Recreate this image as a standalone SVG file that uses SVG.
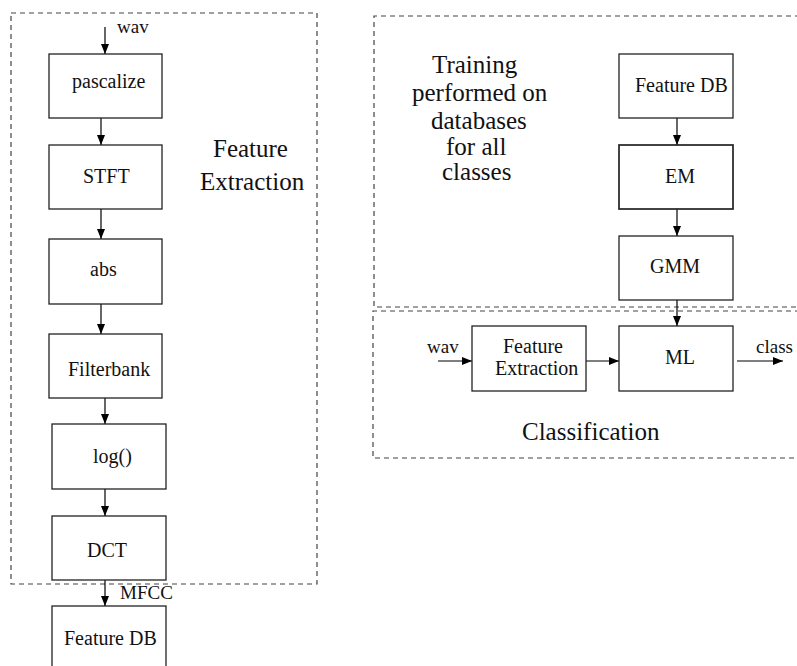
<svg xmlns="http://www.w3.org/2000/svg" width="797" height="666" viewBox="0 0 797 666">
<defs>
<style>
text{font-family:"Liberation Serif","Times New Roman",Times,serif;fill:#111;}
.t{font-size:20px;}
.big{font-size:25px;}
.lab{font-size:19px;}
.box{fill:#fff;stroke:#222;stroke-width:1.3;}
.dash{fill:none;stroke:#444;stroke-width:1.2;stroke-dasharray:5,4;}
.c{fill:none;stroke:#000;stroke-width:1.2;marker-end:url(#ah);}
</style>
<marker id="ah" markerUnits="userSpaceOnUse" markerWidth="12" markerHeight="8" refX="10" refY="4" orient="auto">
<path d="M0,0 L10,4 L0,8 Z" fill="#000"/>
</marker>
</defs>
<rect width="797" height="666" fill="#fff"/>

<g id="frames">
<rect class="dash" x="11" y="13" width="306" height="571"/>
<path class="dash" d="M800,16 H374 V307 H800"/>
<path class="dash" d="M800,311 H373 V458 H800"/>
<text class="big" x="213" y="157">Feature</text>
<text class="big" x="200" y="190">Extraction</text>
<text class="big" x="432" y="73">Training</text>
<text class="big" x="412" y="101">performed on</text>
<text class="big" x="431" y="129">databases</text>
<text class="big" x="446" y="155">for all</text>
<text class="big" x="442" y="180">classes</text>
<text class="big" x="522" y="440">Classification</text>
</g>

<g id="connectors">
<line class="c" x1="105" y1="27" x2="105" y2="54"/>
<line class="c" x1="101" y1="118" x2="101" y2="145"/>
<line class="c" x1="101" y1="209" x2="101" y2="239"/>
<line class="c" x1="101" y1="304" x2="101" y2="334"/>
<line class="c" x1="105" y1="398" x2="105" y2="424"/>
<line class="c" x1="105" y1="489" x2="105" y2="516"/>
<line class="c" x1="105" y1="580" x2="105" y2="606"/>
<line class="c" x1="677" y1="118" x2="677" y2="145"/>
<line class="c" x1="677" y1="209" x2="677" y2="236"/>
<line class="c" x1="677" y1="300" x2="677" y2="326"/>
<line class="c" x1="438" y1="361" x2="472" y2="361"/>
<line class="c" x1="586" y1="361" x2="619" y2="361"/>
<line class="c" x1="737" y1="361" x2="783" y2="361"/>
<text class="lab" x="117" y="33">wav</text>
<text class="lab" x="120" y="599">MFCC</text>
<text class="lab" x="427" y="353">wav</text>
<text class="lab" x="756" y="353">class</text>
</g>

<g id="pascalize"><rect class="box" x="49" y="54" width="113" height="64"/><text class="t" x="72" y="88">pascalize</text></g>
<g id="stft"><rect class="box" x="49" y="145" width="113" height="64"/><text class="t" x="83" y="183">STFT</text></g>
<g id="abs"><rect class="box" x="49" y="239" width="113" height="65"/><text class="t" x="90" y="276">abs</text></g>
<g id="filterbank"><rect class="box" x="49" y="334" width="113" height="64"/><text class="t" x="68" y="376">Filterbank</text></g>
<g id="log"><rect class="box" x="52" y="424" width="114" height="65"/><text class="t" x="93" y="463">log()</text></g>
<g id="dct"><rect class="box" x="52" y="516" width="114" height="64"/><text class="t" x="87" y="557">DCT</text></g>
<g id="featuredb-left"><rect class="box" x="52" y="606" width="114" height="70"/><text class="t" x="64" y="645">Feature DB</text></g>

<g id="featuredb-right"><rect class="box" x="619" y="54" width="114" height="64"/><text class="t" x="635" y="92">Feature DB</text></g>
<g id="em"><rect class="box" x="619" y="145" width="114" height="64" style="stroke-width:1.7"/><text class="t" x="665" y="183">EM</text></g>
<g id="gmm"><rect class="box" x="619" y="236" width="114" height="64"/><text class="t" x="650" y="273">GMM</text></g>
<g id="ml"><rect class="box" x="619" y="326" width="114" height="65"/><text class="t" x="665" y="364">ML</text></g>
<g id="feature-extraction"><rect class="box" x="472" y="326" width="114" height="65"/><text class="t" x="503" y="353">Feature</text><text class="t" x="495" y="375">Extraction</text></g>
</svg>
